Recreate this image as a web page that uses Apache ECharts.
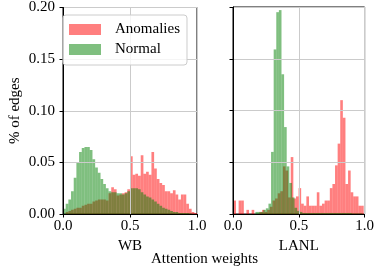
<!DOCTYPE html>
<html><head><meta charset="utf-8">
<script src="https://cdn.jsdelivr.net/npm/echarts@6/dist/echarts.min.js"></script>
<style>html,body{margin:0;padding:0;background:#fff}#c{width:377px;height:273px}</style>
</head><body><div id="c"></div>
<script>
// ---- data ----
const panelNames = ['WB', 'LANL'];
const seriesNames = ['Anomalies', 'Normal'];
const xLabel = 'Attention weights';
const yLabel = '% of edges';
const xTickValues = [0, 0.5, 1.0];
const yTickValues = [0, 0.05, 0.10, 0.15, 0.20];

// WB histograms (bin start, bin width, heights)
const wbAnomStart = 0, wbAnomWidth = 0.02;
const wbAnomalies = [0.000, 0.002, 0.003, 0.004, 0.005, 0.006, 0.006, 0.008, 0.009, 0.010,
  0.010, 0.012, 0.013, 0.014, 0.014, 0.014, 0.013, 0.020, 0.026, 0.024,
  0.018, 0.019, 0.020, 0.021, 0.024, 0.056, 0.038, 0.039, 0.037, 0.057,
  0.039, 0.041, 0.038, 0.060, 0.044, 0.034, 0.030, 0.028, 0.022, 0.022,
  0.020, 0.023, 0.019, 0.014, 0.019, 0.019, 0.010, 0.005, 0.002, 0.001];
const wbNormStart = 0, wbNormWidth = 0.02;
const wbNormal = [0.005, 0.010, 0.014, 0.022, 0.035, 0.050, 0.060, 0.064, 0.065, 0.065,
  0.062, 0.053, 0.045, 0.040, 0.034, 0.029, 0.025, 0.022, 0.021, 0.021,
  0.020, 0.020, 0.019, 0.020, 0.022, 0.025, 0.025, 0.025, 0.024, 0.021,
  0.019, 0.017, 0.016, 0.014, 0.012, 0.010, 0.008, 0.006, 0.005, 0.004,
  0.003, 0.002, 0.002, 0.001, 0.001, 0.001, 0.001, 0.0005, 0, 0];

// LANL histograms
const lanlAnomStart = 0.003, lanlAnomWidth = 0.0198;
const lanlAnomalies = [0.013, 0, 0.013, 0.013, 0, 0.004, 0, 0.004, 0, 0,
  0.002, 0.004, 0.002, 0.004, 0.007, 0.013, 0.015, 0.020, 0.022, 0.046,
  0.042, 0.016, 0.055, 0.015, 0.017, 0.025, 0.010, 0.008, 0.017, 0.008,
  0.008, 0.008, 0.021, 0.008, 0.010, 0.013, 0.013, 0.025, 0.029, 0.047,
  0.068, 0.110, 0.093, 0.029, 0.042, 0.021, 0.017, 0.017, 0.008, 0.008];
const lanlNormStart = 0.012, lanlNormWidth = 0.0198;
const lanlNormal = [0, 0, 0, 0, 0, 0, 0, 0, 0.002, 0.002,
  0.002, 0.004, 0.0055, 0.010, 0.060, 0.159, 0.195, 0.197, 0.135, 0.084,
  0.046, 0.030, 0.016, 0.006, 0.003, 0.002, 0.001, 0.001, 0.001, 0.001,
  0.001, 0.001, 0.001, 0.001, 0.001, 0.001, 0.001, 0.001, 0.001, 0.001,
  0.001, 0.001, 0.001, 0.001, 0.001, 0.0005, 0.0005, 0.0005, 0.0005, 0];

// ---- chart ----
const FONT = "'Liberation Serif','DejaVu Serif',serif";
const RED = 'rgba(255,0,0,0.5)';
const GREEN = 'rgba(0,128,0,0.5)';

function toBins(start, width, values) {
  return values.map((v, i) => [start + i * width, start + (i + 1) * width, v]);
}
function makeRender(color) {
  return function (params, api) {
    const top = api.coord([api.value(0), api.value(2)]);
    const bot = api.coord([api.value(1), 0]);
    return { type: 'rect', shape: { x: top[0], y: top[1], width: bot[0] - top[0], height: bot[1] - top[1] },
      style: { fill: color } };
  };
}
function histSeries(name, grid, data, color) {
  return { type: 'custom', name: name, xAxisIndex: grid, yAxisIndex: grid,
    itemStyle: { color: color }, renderItem: makeRender(color),
    encode: { x: [0, 1], y: 2 }, data: data, clip: true, z: 2 };
}

const gridLine = { show: true, lineStyle: { color: '#cbcbcb', width: 1 } };
const blackLine = { show: true, lineStyle: { color: '#000', width: 1 } };
const tickStyle = { show: true, length: 3.5, lineStyle: { color: '#000', width: 1 } };
const labelFont = { fontFamily: FONT, fontSize: 15, color: '#000' };

const grids = [
  { left: 63, top: 7, width: 134, height: 207, show: true, borderColor: '#000', borderWidth: 1 },
  { left: 233, top: 7, width: 135, height: 207, show: true, borderColor: '#000', borderWidth: 1 }
];
const xAxes = panelNames.map((p, i) => ({
  type: 'value', gridIndex: i, min: xTickValues[0], max: xTickValues[xTickValues.length - 1],
  interval: xTickValues[1] - xTickValues[0], z: 10,
  axisLine: blackLine, axisTick: tickStyle, splitLine: gridLine,
  axisLabel: Object.assign({ margin: 5, formatter: v => v.toFixed(1) }, labelFont),
  name: p, nameLocation: 'middle', nameGap: 18, nameTextStyle: labelFont
}));
const yAxes = panelNames.map((p, i) => ({
  type: 'value', gridIndex: i, min: yTickValues[0], max: yTickValues[yTickValues.length - 1],
  interval: yTickValues[1] - yTickValues[0], z: 10,
  axisLine: blackLine, axisTick: tickStyle, splitLine: gridLine,
  axisLabel: Object.assign({ show: i === 0, margin: 8, formatter: v => v.toFixed(2) }, labelFont),
  name: i === 0 ? yLabel : '', nameLocation: 'middle', nameGap: 40, nameRotate: 90, nameTextStyle: labelFont
}));

const option = {
  animation: false,
  backgroundColor: '#fff',
  grid: grids,
  xAxis: xAxes,
  yAxis: yAxes,
  legend: {
    data: seriesNames, orient: 'vertical', left: 63, top: 15, padding: [7, 7, 8, 6],
    itemGap: 5, itemWidth: 32, itemHeight: 11, icon: 'rect',
    backgroundColor: 'rgba(255,255,255,0.8)', borderColor: '#cccccc', borderWidth: 1, borderRadius: 3,
    textStyle: Object.assign({ padding: [0, 0, 0, 9] }, labelFont), z: 20
  },
  graphic: [{
    type: 'text', left: 151, top: 252,
    style: { text: xLabel, font: '15px ' + FONT, fill: '#000' }
  }],
  series: [
    histSeries(seriesNames[0], 0, toBins(wbAnomStart, wbAnomWidth, wbAnomalies), RED),
    histSeries(seriesNames[1], 0, toBins(wbNormStart, wbNormWidth, wbNormal), GREEN),
    histSeries(seriesNames[0], 1, toBins(lanlAnomStart, lanlAnomWidth, lanlAnomalies), RED),
    histSeries(seriesNames[1], 1, toBins(lanlNormStart, lanlNormWidth, lanlNormal), GREEN)
  ]
};
const chart = echarts.init(document.getElementById('c'), null, { renderer: 'canvas' });
chart.setOption(option);
</script></body></html>
